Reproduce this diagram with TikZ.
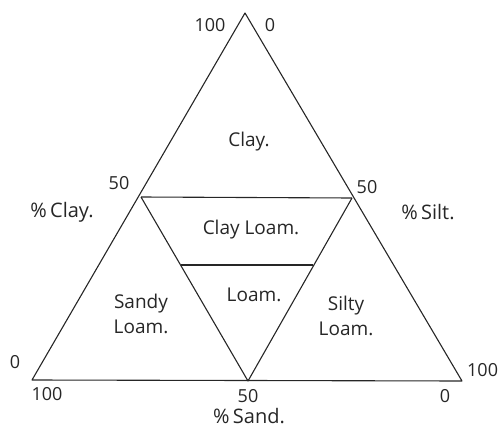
\documentclass[tikz,border=0pt]{standalone}
\usepackage{fontspec}
\setmainfont{Open Sans}
\begin{document}
\begin{tikzpicture}[x=1pt,y=-1pt,
  edge/.style={line width=1.1pt, line join=round, black!85},
  lbl/.style={inner sep=0pt, font=\fontsize{18}{21}\selectfont, text=black!85},
  region/.style={inner sep=0pt, font=\fontsize{19}{25}\selectfont, text=black!85, align=center}]
\useasboundingbox (0,0) rectangle (504,431);
% vertices
\coordinate (A) at (245,13);
\coordinate (BL) at (32,380);
\coordinate (BR) at (462,381);
\coordinate (ML) at (141,197);
\coordinate (MR) at (352,198);
\coordinate (MB) at (248,381);
\coordinate (IL) at (181,265);
\coordinate (IR) at (313,265);
% outer triangle
\draw[edge] (A) -- (BR) -- (BL) -- cycle;
% inner lines
\draw[edge] (ML) -- (MR);
\draw[edge] (ML) -- (MB) -- (MR);
\draw[edge] (IL) -- (IR);
% scale labels
\node[lbl] (t100) at (210,25) {100};
\node[lbl] (t0) at (270,25) {0};
\node[lbl] (l50) at (119,183) {50};
\node[lbl] (r50) at (367,187) {50};
\node[lbl] (l0) at (15,362) {0};
\node[lbl] (b100) at (47,394) {100};
\node[lbl] (b50) at (248,396) {50};
\node[lbl] (b0) at (445,396) {0};
\node[lbl, anchor=west] (r100) at (467,370) {100};
% axis titles
\node[lbl, font=\fontsize{20}{24}\selectfont] (pclay) at (62,212) {\%\,Clay.};
\node[lbl, font=\fontsize{20}{24}\selectfont] (psilt) at (428,212) {\%\,Silt.};
\node[lbl, font=\fontsize{20}{24}\selectfont] (psand) at (249,416) {\%\,Sand.};
% regions
\node[region] (clay) at (249,142) {Clay.};
\node[region] (clayloam) at (251,230) {Clay Loam.};
\node[region] (loam) at (254,295) {Loam.};
\node[region] (sandy) at (141,314) {Sandy\\Loam.};
\node[region] (silty) at (346,316) {Silty\\Loam.};
\end{tikzpicture}
\end{document}
